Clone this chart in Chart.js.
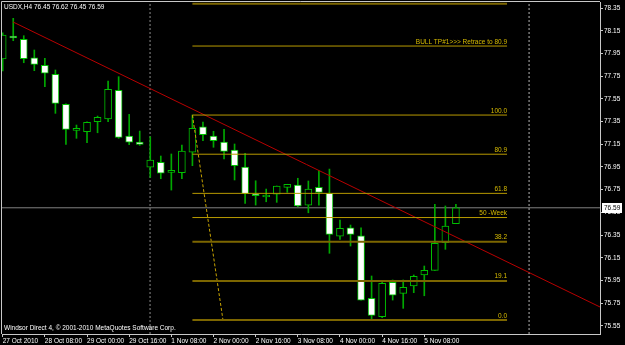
<!DOCTYPE html>
<html>
<head>
<meta charset="utf-8">
<script src="https://cdn.jsdelivr.net/npm/chart.js"></script>
<style>
  html, body { margin: 0; padding: 0; background: #000; }
  #wrap { width: 625px; height: 345px; }
</style>
</head>
<body>
<div id="wrap"><canvas id="candleChart" width="625" height="345"></canvas></div>
<script>
// USDX H4 candles, 27 Oct - 5 Nov 2010 (bar index = x)
const symbolTitle = 'USDX,H4 76.45 76.62 76.45 76.59';
const copyright = 'Windsor Direct 4, \u00a9 2001-2010 MetaQuotes Software Corp.';

const opens  = [77.901, 78.103, 78.074, 77.912, 77.845, 77.766, 77.502, 77.272, 77.260, 77.348,
                77.372, 77.625, 77.222, 77.169, 76.947, 76.991, 76.902, 76.899, 77.079, 77.304,
                77.222, 77.169, 77.099, 76.949, 76.709, 76.685, 76.711, 76.770, 76.790, 76.614,
                76.770, 76.717, 76.341, 76.414, 76.344, 75.792, 75.630, 75.933, 75.836, 75.901,
                75.998, 76.039, 76.282, 76.45];
const highs  = [78.132, 78.259, 78.106, 77.980, 77.907, 77.804, 77.505, 77.319, 77.348, 77.398,
                77.707, 77.745, 77.413, 77.266, 77.216, 77.046, 77.064, 77.143, 77.407, 77.346,
                77.264, 77.281, 77.152, 77.070, 76.828, 76.755, 76.782, 76.797, 76.850, 76.826,
                76.917, 76.931, 76.482, 76.438, 76.414, 75.989, 75.939, 75.954, 75.954, 75.998,
                76.077, 76.620, 76.606, 76.62];
const lows   = [77.795, 78.062, 77.868, 77.798, 77.657, 77.422, 77.149, 77.202, 77.163, 77.251,
                77.348, 77.202, 77.146, 77.140, 76.858, 76.846, 76.746, 76.846, 76.961, 77.181,
                77.123, 77.020, 76.835, 76.629, 76.614, 76.643, 76.638, 76.726, 76.599, 76.546,
                76.614, 76.189, 76.312, 76.253, 75.777, 75.601, 75.621, 75.777, 75.704, 75.842,
                75.815, 76.039, 76.224, 76.45];
const closes = [78.112, 78.086, 77.903, 77.854, 77.775, 77.510, 77.281, 77.278, 77.343, 77.387,
                77.634, 77.211, 77.167, 77.149, 77.011, 76.894, 76.920, 77.090, 77.290, 77.234,
                77.181, 77.087, 76.961, 76.714, 76.696, 76.700, 76.782, 76.797, 76.606, 76.755,
                76.726, 76.356, 76.409, 76.356, 75.777, 75.642, 75.924, 75.821, 75.889, 75.986,
                76.039, 76.277, 76.429, 76.59];

const timeTicks  = [0, 4, 8, 12, 16, 20, 24, 28, 32, 36, 40];
const timeLabels = ['27 Oct 2010', '28 Oct 08:00', '29 Oct 00:00', '29 Oct 16:00', '1 Nov 08:00',
                    '2 Nov 00:00', '2 Nov 16:00', '3 Nov 08:00', '4 Nov 00:00', '4 Nov 16:00', '5 Nov 08:00'];

const priceTicks = [75.55, 75.75, 75.95, 76.15, 76.35, 76.55, 76.75, 76.95,
                    77.15, 77.35, 77.55, 77.75, 77.95, 78.15, 78.35];

// fibonacci object drawn on the chart
const fibPrices = [75.601, 75.946, 76.291, 76.504, 76.717, 77.062, 77.407, 78.015, 78.388];
const fibLabels = ['0.0', '19.1', '38.2', '50 -Week', '61.8', '80.9', '100.0', 'BULL TP#1>>> Retrace to 80.9', ''];
const fibStartBar = 18;
const fibEndBar = 47.85;
const fibTrendX = [18, 20.9];
const fibTrendY = [77.407, 75.601];

// red trendline off the highs
const trendX = [0.98, 56.67];
const trendY = [78.227, 75.716];

const separatorBars = [13.98, 49.94];
const bidPrice = 76.59;

const xMin = -0.066, xMax = 56.67;
const yMin = 75.478, yMax = 78.403;

const FONT = { family: '"Liberation Sans", Arial, sans-serif', size: 6.5 };
const FONT_CSS = '6.5px "Liberation Sans", Arial, sans-serif';

const barX = opens.map((_, i) => i);
const wickData = barX.map(i => ({ x: i, y: [lows[i], highs[i]] }));
const bodyData = barX.map(i => ({ x: i, y: [opens[i], closes[i]] }));
const bodyFill = barX.map(i => closes[i] > opens[i] ? '#000000' : '#ffffff');

function seg(xs, ys) {
    return xs.map((v, k) => ({ x: v, y: ys[k] }));
}

function lineSet(data, color, width, dash, order) {
    return {
        type: 'line',
        data: data,
        borderColor: color,
        borderWidth: width,
        borderDash: dash,
        pointRadius: 0,
        fill: false,
        tension: 0,
        order: order
    };
}

const datasets = [
    {
        label: 'wick',
        data: wickData,
        backgroundColor: '#00a800',
        borderWidth: 0,
        barThickness: 1,
        grouped: false,
        order: 2
    },
    {
        label: 'body',
        data: bodyData,
        backgroundColor: bodyFill,
        borderColor: '#00c000',
        borderWidth: 1,
        borderSkipped: false,
        barThickness: 7,
        minBarLength: 2,
        grouped: false,
        order: 1
    },
    lineSet(seg([xMin, xMax], [bidPrice, bidPrice]), '#808080', 1, [], 3)
];

separatorBars.forEach((b, k) => {
    datasets.push(lineSet(seg([b, b], [yMin, yMax]), k === 0 ? '#8a8a8a' : '#b4b4b4', 1, [2, 2], 3));
});

fibPrices.forEach((p, k) => {
    const lower = k < 3 || k === fibPrices.length - 1;
    datasets.push(lineSet(seg([fibStartBar, fibEndBar], [p, p]),
        lower ? '#7c6600' : '#b89a00', lower ? 2 : 1, [], 0));
});

datasets.push(lineSet(seg(fibTrendX, fibTrendY), '#c8a400', 1, [3, 2], 0));
datasets.push(lineSet(seg(trendX, trendY), '#b80000', 1, [], 0));

const mtOverlay = {
    id: 'mtOverlay',
    afterDatasetsDraw(chart) {
        const { ctx, chartArea, scales: { x, y } } = chart;
        ctx.save();
        ctx.font = FONT_CSS;
        ctx.fillStyle = '#d8bc00';
        ctx.textAlign = 'right';
        ctx.textBaseline = 'bottom';
        fibLabels.forEach((t, k) => {
            if (t) ctx.fillText(t, x.getPixelForValue(fibEndBar), y.getPixelForValue(fibPrices[k]) - 1);
        });
        ctx.fillStyle = '#ffffff';
        ctx.textAlign = 'left';
        ctx.textBaseline = 'middle';
        ctx.fillText(symbolTitle, chartArea.left + 2, 7);
        ctx.fillText(copyright, chartArea.left + 2, chartArea.bottom - 6);
        ctx.strokeStyle = '#c8c8c8';
        ctx.lineWidth = 1;
        ctx.beginPath();
        ctx.moveTo(1.5, chartArea.bottom);
        ctx.lineTo(1.5, 1.5);
        ctx.lineTo(chartArea.right, 1.5);
        ctx.stroke();
        ctx.restore();
    },
    afterDraw(chart) {
        const { ctx, chartArea, scales: { y } } = chart;
        const py = Math.round(y.getPixelForValue(bidPrice));
        ctx.save();
        ctx.fillStyle = '#ffffff';
        ctx.fillRect(chartArea.right + 2, py - 5, 20, 10);
        ctx.fillStyle = '#000000';
        ctx.font = FONT_CSS;
        ctx.textAlign = 'left';
        ctx.textBaseline = 'middle';
        ctx.fillText(bidPrice.toFixed(2), chartArea.right + 4, py);
        ctx.restore();
    }
};

new Chart(document.getElementById('candleChart').getContext('2d'), {
    type: 'bar',
    data: { datasets: datasets },
    plugins: [mtOverlay],
    options: {
        responsive: false,
        animation: false,
        events: [],
        layout: { padding: { left: 2, top: 2, right: 0, bottom: 0 } },
        plugins: {
            legend: { display: false },
            tooltip: { enabled: false }
        },
        scales: {
            x: {
                type: 'linear',
                min: xMin,
                max: xMax,
                offset: false,
                grid: { drawOnChartArea: false, tickLength: 3, color: '#c8c8c8', offset: false },
                border: { color: '#c8c8c8' },
                afterBuildTicks: s => { s.ticks = timeTicks.map(v => ({ value: v })); },
                ticks: {
                    autoSkip: false,
                    maxRotation: 0,
                    align: 'start',
                    padding: 0,
                    color: '#ffffff',
                    font: FONT,
                    callback: (v, i) => timeLabels[i]
                },
                afterFit: s => { s.height = 11; s.paddingLeft = 0; s.paddingRight = 0; }
            },
            y: {
                position: 'right',
                min: yMin,
                max: yMax,
                grid: { drawOnChartArea: false, tickLength: 3, color: '#c8c8c8' },
                border: { color: '#c8c8c8' },
                afterBuildTicks: s => { s.ticks = priceTicks.map(v => ({ value: v })); },
                ticks: {
                    autoSkip: false,
                    padding: 1,
                    color: '#ffffff',
                    font: FONT,
                    callback: v => v.toFixed(2)
                },
                afterFit: s => { s.width = 25; s.paddingTop = 0; s.paddingBottom = 0; }
            }
        }
    }
});
</script>
</body>
</html>
